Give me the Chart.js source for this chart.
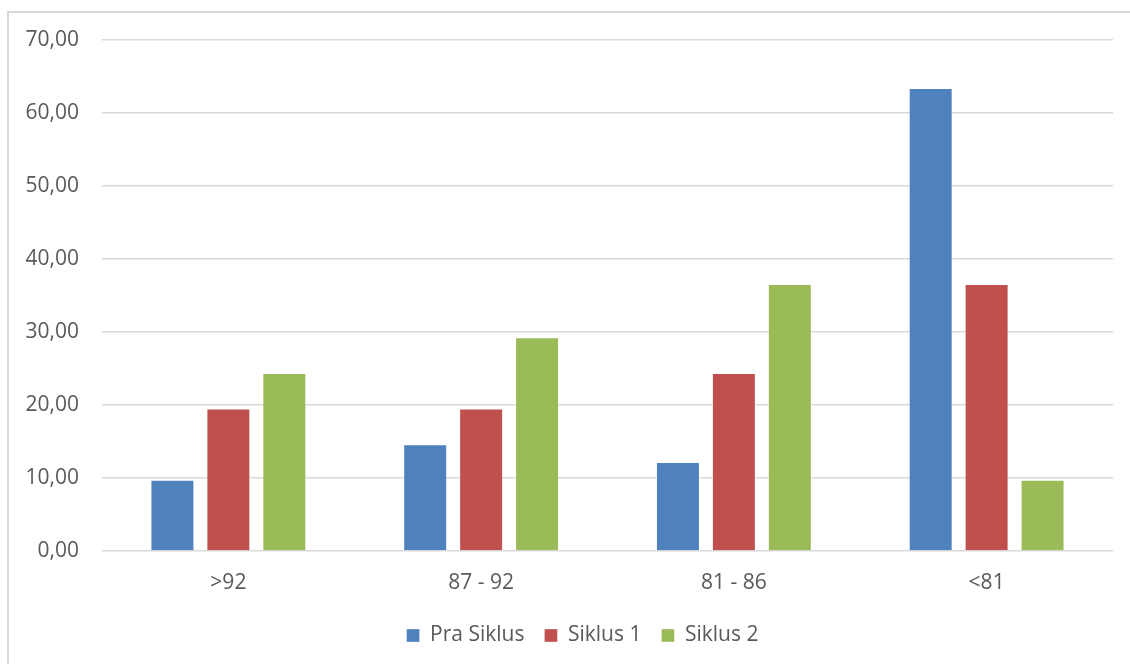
<!DOCTYPE html>
<html>
<head>
<meta charset="utf-8">
<script src="https://cdn.jsdelivr.net/npm/chart.js@4.4.1/dist/chart.umd.min.js"></script>
<style>
  html, body { margin: 0; padding: 0; background: #fff; overflow: hidden; }
  #frame { position: absolute; left: 7px; top: 11px; width: 1200px; height: 700px; border: 2px solid #d9d9d9; }
  #wrap { position: absolute; left: 0; top: 0; width: 1130px; height: 664px; }
</style>
</head>
<body>
<div id="frame"></div>
<div id="wrap"><canvas id="chart"></canvas></div>
<script>
// kategori nilai dan persentase siswa
var categories = [">92", "87 - 92", "81 - 86", "<81"];
var praSiklus = [9.76, 14.63, 12.2, 63.41];
var siklus1 = [19.51, 19.51, 24.39, 36.59];
var siklus2 = [24.39, 29.27, 36.59, 9.76];
var yTicks = [0, 10, 20, 30, 40, 50, 60, 70];

document.addEventListener("DOMContentLoaded", function () {
  var ctx = document.getElementById("chart").getContext("2d");
  var textColor = "#595959";
  var font = { family: "Open Sans", size: 21 };

  function ds(label, data, color) {
    return {
      label: label,
      data: data,
      backgroundColor: color,
      borderColor: "rgba(255,255,255,0.35)",
      borderWidth: 1,
      categoryPercentage: 0.664,
      barPercentage: 0.786,
    };
  }

  // geser legenda sedikit ke kanan seperti aslinya
  var legendShift = {
    id: "legendShift",
    afterLayout: function (chart) {
      if (chart.legend) {
        chart.legend.left += 26;
        chart.legend.right += 26;
      }
    },
  };

  new Chart(ctx, {
    type: "bar",
    data: {
      labels: categories,
      datasets: [
        ds("Pra Siklus", praSiklus, "#4f81bd"),
        ds("Siklus 1", siklus1, "#c0504d"),
        ds("Siklus 2", siklus2, "#9bbb59"),
      ],
    },
    plugins: [legendShift],
    options: {
      responsive: true,
      maintainAspectRatio: false,
      animation: false,
      layout: { padding: { top: 40, right: 17, bottom: 8, left: 0 } },
      plugins: {
        tooltip: { enabled: false },
        legend: {
          position: "bottom",
          labels: {
            boxWidth: 13,
            boxHeight: 13,
            padding: 20,
            color: textColor,
            font: font,
          },
        },
      },
      scales: {
        x: {
          grid: { display: false, drawTicks: false },
          border: { display: false },
          ticks: { color: textColor, font: font, padding: 19 },
          afterFit: function (s) { s.height = 54; },
        },
        y: {
          min: 0,
          max: 70,
          afterBuildTicks: function (s) {
            s.ticks = yTicks.map(function (v) { return { value: v }; });
          },
          grid: { color: "#d9d9d9", lineWidth: 1.5, drawTicks: false },
          border: { display: false },
          ticks: {
            color: textColor,
            font: font,
            padding: 23,
            callback: function (v) { return v.toFixed(2).replace(".", ","); },
          },
          afterFit: function (s) { s.width = 102; },
        },
      },
    },
  });
});
</script>
</body>
</html>
